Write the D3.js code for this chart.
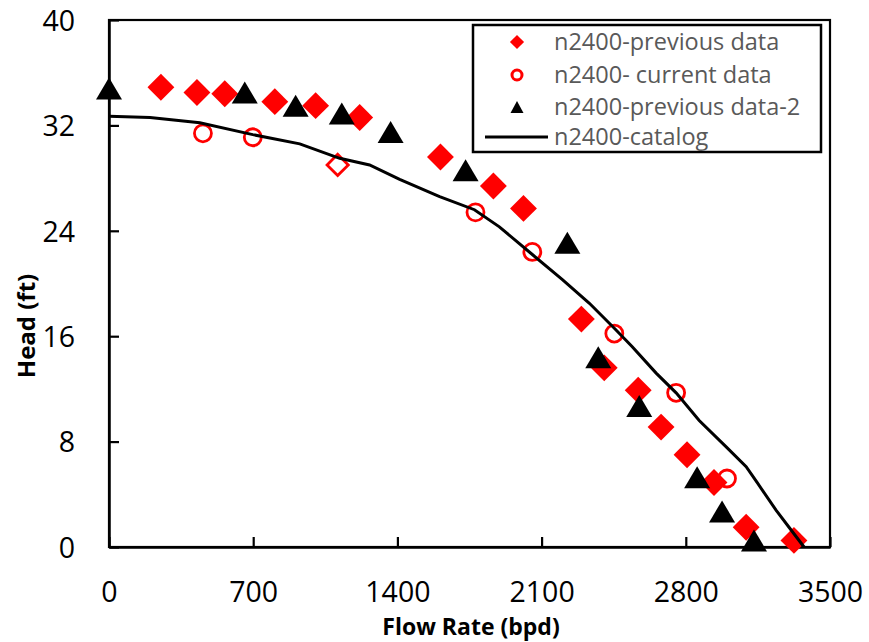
<!DOCTYPE html>
<html><head><meta charset="utf-8">
<script src="https://cdn.jsdelivr.net/npm/d3@7"></script>
<style>body{margin:0;background:#fff}</style>
</head><body>
<svg id="chart" width="869" height="642"></svg>
<script>
// ---- data ----
const xTicks = [0, 700, 1400, 2100, 2800, 3500];
const yTicks = [0, 8, 16, 24, 32, 40];

const prevFlow = [252, 427, 562, 805, 1003, 1217, 1609, 1866, 2012, 2293, 2404, 2569, 2680, 2806, 2937, 3093, 3325];
const prevHead = [34.9, 34.5, 34.4, 33.8, 33.5, 32.6, 29.6, 27.4, 25.7, 17.3, 13.6, 11.9, 9.1, 7.0, 4.9, 1.5, 0.5];

const curFlow = [456, 698, 1110, 1779, 2055, 2453, 2753, 3000];
const curHead = [31.4, 31.1, 29.0, 25.4, 22.4, 16.2, 11.7, 5.2];
const curShape = ["circle", "circle", "diamond", "circle", "circle", "circle", "circle", "circle"];

const prev2Flow = [0, 659, 906, 1130, 1367, 1731, 2225, 2375, 2574, 2855, 2976, 3131];
const prev2Head = [34.8, 34.5, 33.5, 32.9, 31.5, 28.6, 23.1, 14.4, 10.7, 5.3, 2.7, 0.5];

const catFlow = [0, 199, 441, 698, 926, 1120, 1265, 1411, 1605, 1774, 1895, 2055, 2201, 2332, 2453, 2540, 2656, 2753, 2865, 2996, 3093, 3146, 3238, 3301, 3374];
const catHead = [32.7, 32.6, 32.2, 31.3, 30.6, 29.5, 29.0, 27.9, 26.6, 25.6, 24.3, 22.2, 20.3, 18.5, 16.6, 15.2, 13.2, 11.7, 9.6, 7.6, 6.1, 4.9, 2.8, 1.5, 0];

const seriesNames = ["n2400-previous data", "n2400- current data", "n2400-previous data-2", "n2400-catalog"];

// ---- layout ----
const svg = d3.select("#chart");
const L = 109, R = 830, T = 20, B = 547;
const x = d3.scaleLinear().domain([0, 3500]).range([L, R]);
const y = d3.scaleLinear().domain([0, 40]).range([B, T]);
const FONT = "'Open Sans', sans-serif";
const RED = "#ff0000";

const zip = (a, b) => a.map((v, i) => [v, b[i]]);

function triPath(w, h) {
  return `M0,${-h/2}L${w/2},${h/2}L${-w/2},${h/2}Z`;
}
const diamond = (s) => d3.symbol().type(d3.symbolSquare).size(s * s)();

// frame
svg.append("rect").attr("x", L).attr("y", T).attr("width", R - L).attr("height", B - T)
  .attr("fill", "none").attr("stroke", "#000").attr("stroke-width", 2.2);

// axes (ticks inward)
const xAxis = svg.append("g").attr("transform", `translate(0,${B})`)
  .call(d3.axisBottom(x).tickValues(xTicks).tickFormat(d3.format("d")).tickSizeInner(-10).tickSizeOuter(0).tickPadding(48));
const yAxis = svg.append("g").attr("transform", `translate(${L},0)`)
  .call(d3.axisLeft(y).tickValues(yTicks).tickFormat(d3.format("d")).tickSizeInner(-10).tickSizeOuter(0).tickPadding(34));
[xAxis, yAxis].forEach(g => {
  g.select(".domain").attr("stroke", "#000").attr("stroke-width", 2.5);
  g.selectAll(".tick line").attr("stroke", "#000").attr("stroke-width", 2.2);
  g.selectAll(".tick text").attr("fill", "#000").style("font-family", FONT).style("font-size", "28.5px");
});
xAxis.selectAll(".tick text").attr("dy", "0em").attr("y", 55);
yAxis.selectAll(".tick text").attr("dy", "0.36em");

// axis titles
svg.append("text").attr("x", 471).attr("y", 635).attr("text-anchor", "middle")
  .style("font-family", FONT).style("font-weight", "bold").style("font-size", "23px")
  .text("Flow Rate (bpd)");
svg.append("text").attr("transform", "translate(35,326) rotate(-90)").attr("text-anchor", "middle")
  .style("font-family", FONT).style("font-weight", "bold").style("font-size", "24px")
  .text("Head (ft)");

// series 1: previous data (filled red diamonds)
svg.append("g").selectAll("path").data(zip(prevFlow, prevHead)).join("path")
  .attr("transform", d => `translate(${x(d[0])},${y(d[1])}) rotate(45)`)
  .attr("d", diamond(19)).attr("fill", RED);

// series 2: current data (open red circles / one open diamond)
const cur = svg.append("g");
cur.selectAll("circle").data(zip(curFlow, curHead).filter((d, i) => curShape[i] === "circle")).join("circle")
  .attr("cx", d => x(d[0])).attr("cy", d => y(d[1])).attr("r", 8.5)
  .attr("fill", "none").attr("stroke", RED).attr("stroke-width", 2.8);
cur.selectAll("path").data(zip(curFlow, curHead).filter((d, i) => curShape[i] === "diamond")).join("path")
  .attr("transform", d => `translate(${x(d[0])},${y(d[1])}) rotate(45)`)
  .attr("d", diamond(15)).attr("fill", "none").attr("stroke", RED).attr("stroke-width", 2.8);

// series 3: previous data-2 (black triangles)
svg.append("g").selectAll("path").data(zip(prev2Flow, prev2Head)).join("path")
  .attr("transform", d => `translate(${x(d[0])},${y(d[1])})`)
  .attr("d", triPath(26, 22)).attr("fill", "#000");

// series 4: catalog line
svg.append("path").datum(zip(catFlow, catHead))
  .attr("d", d3.line().x(d => x(d[0])).y(d => y(d[1])))
  .attr("fill", "none").attr("stroke", "#000").attr("stroke-width", 3);

// legend
const lg = svg.append("g");
lg.append("rect").attr("x", 473).attr("y", 25).attr("width", 348).attr("height", 127)
  .attr("fill", "#fff").attr("stroke", "#000").attr("stroke-width", 2.5);
const rowY = [42, 75, 107, 137];
const mx = 517;
lg.append("path").attr("transform", `translate(${mx},${rowY[0]}) rotate(45)`).attr("d", diamond(10)).attr("fill", RED);
lg.append("circle").attr("cx", mx).attr("cy", rowY[1]).attr("r", 5).attr("fill", "none").attr("stroke", RED).attr("stroke-width", 3);
lg.append("path").attr("transform", `translate(${mx},${rowY[2]})`).attr("d", triPath(13, 12)).attr("fill", "#000");
lg.append("line").attr("x1", 485).attr("x2", 548).attr("y1", rowY[3]).attr("y2", rowY[3]).attr("stroke", "#000").attr("stroke-width", 3);
lg.selectAll("text").data(seriesNames).join("text")
  .attr("x", 554).attr("y", (d, i) => rowY[i]).attr("dy", "0.36em")
  .style("font-family", FONT).style("font-size", "23.5px").attr("fill", "#595959")
  .text(d => d);
</script>
</body></html>
